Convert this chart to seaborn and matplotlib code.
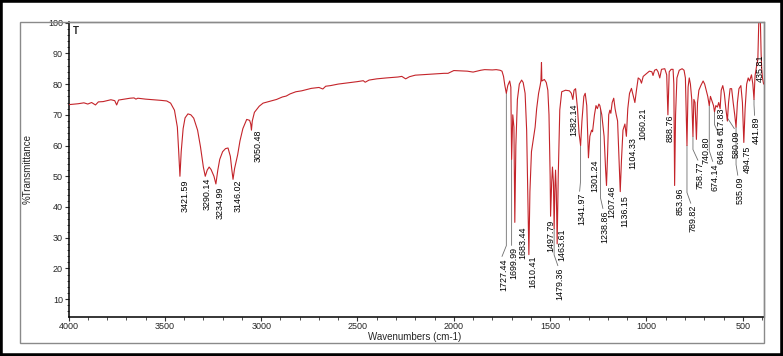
import pandas as pd
import matplotlib.pyplot as plt
import seaborn as sns
from matplotlib.patches import Rectangle
from matplotlib.ticker import MultipleLocator

# IR spectrum (wavenumber cm-1, %T)
wavenumber = [
    4000, 3950, 3920, 3900, 3880, 3860, 3845, 3820, 3800, 3780, 3760, 3750, 3740,
    3720, 3700, 3680, 3660, 3650, 3640, 3600, 3560, 3520, 3490, 3470, 3450, 3435,
    3428, 3421.59, 3415, 3405, 3395, 3380, 3365, 3350, 3330, 3315, 3300, 3290.14,
    3280, 3270, 3260, 3245, 3234.99, 3225, 3215, 3200, 3185, 3172, 3160, 3152,
    3146.02, 3138, 3122, 3110, 3095, 3075, 3060, 3054, 3050.48, 3046, 3035, 3010,
    2990, 2950, 2920, 2890, 2870, 2850, 2820, 2790, 2740, 2700, 2680, 2665, 2640,
    2600, 2550, 2500, 2470, 2460, 2440, 2400, 2350, 2290, 2270, 2250, 2230, 2200,
    2150, 2100, 2050, 2030, 2000, 1960, 1930, 1900, 1880, 1860, 1840, 1800, 1780,
    1760, 1750, 1742, 1735, 1727.44, 1720, 1710, 1704, 1699.99, 1694, 1688,
    1683.44, 1678, 1670, 1660, 1648, 1640, 1630, 1622, 1615, 1610.41, 1605, 1597,
    1590, 1584, 1578, 1570, 1560, 1552, 1548, 1545, 1543, 1530, 1520, 1512, 1506,
    1500, 1497.79, 1492, 1488, 1483, 1479.36, 1475, 1472, 1468, 1463.61, 1458,
    1450, 1440, 1420, 1400, 1390, 1382.14, 1376, 1368, 1358, 1350, 1341.97, 1335,
    1325, 1318, 1310, 1301.24, 1294, 1285, 1280, 1270, 1262, 1255, 1247, 1242,
    1238.86, 1232, 1220, 1212, 1207.46, 1202, 1196, 1190, 1185, 1178, 1170, 1163,
    1157, 1150, 1142, 1136.15, 1130, 1122, 1112, 1104.33, 1097, 1088, 1078, 1068,
    1060.21, 1052, 1043, 1033, 1026, 1017, 1000, 985, 972, 966, 958, 948, 940, 931,
    922, 905, 895, 888.76, 882, 872, 862, 858, 853.96, 849, 842, 830, 815, 805, 798,
    789.82, 784, 778, 772, 765, 758.77, 754, 748, 740.80, 735, 728, 718, 706, 698,
    690, 682, 674.14, 668, 660, 652, 646.94, 640, 632, 625, 617.83, 612, 604, 596,
    588, 580.09, 574, 566, 558, 550, 542, 535.09, 528, 520, 510, 502, 494.75, 488,
    480, 472, 465, 455, 448, 441.89, 437, 435.81, 428, 422, 417, 413, 409, 405, 402,
    398, 392,
]
transmittance = [
    73.3, 73.6, 73.9, 73.5, 74.0, 73.2, 74.2, 74.3, 74.6, 74.9, 74.6, 73.2, 74.8,
    75.0, 75.2, 75.4, 75.5, 75.1, 75.4, 75.1, 74.9, 74.7, 74.5, 73.8, 71.5, 66.0,
    58.0, 50.0, 58.0, 65.5, 69.0, 70.3, 70.0, 68.9, 65.0, 59.6, 53.0, 50.0,
    52.0, 53.0, 52.2, 50.0, 47.5, 52.0, 55.5, 58.0, 59.0, 59.2, 56.5, 52.0,
    49.0, 52.5, 57.0, 61.5, 65.5, 68.5, 68.2, 67.0, 65.0, 68.0, 70.8, 72.8,
    73.8, 74.5, 75.0, 75.8, 76.1, 76.8, 77.5, 77.8, 78.6, 78.9, 78.4, 79.3, 79.5,
    80.0, 80.4, 80.8, 81.1, 80.6, 81.3, 81.7, 82.0, 82.3, 82.5, 81.7, 82.4, 82.9,
    83.1, 83.3, 83.5, 83.5, 84.4, 84.3, 84.2, 83.9, 84.2, 84.5, 84.7, 84.6, 84.7,
    84.5, 84.2, 82.5, 79.5, 77.0, 79.5, 81.0, 79.0, 55.5, 70.0, 66.0,
    35.0, 60.0, 75.0, 80.0, 81.3, 80.5, 77.0, 65.0, 40.0, 24.5, 45.0, 58.0,
    61.0, 63.4, 66.0, 72.0, 77.0, 79.5, 81.0, 87.0, 81.0, 81.5, 80.5, 78.0, 70.0,
    50.0, 37.0, 48.0, 53.0, 48.0, 33.0, 47.0, 52.0, 45.0, 28.0, 50.0,
    71.6, 77.5, 78.0, 77.8, 77.0, 75.0, 78.0, 78.5, 72.0, 64.0, 60.0, 68.0,
    76.0, 77.0, 73.0, 56.0, 63.0, 65.0, 64.5, 70.0, 73.0, 72.0, 73.5, 73.0,
    72.0, 70.0, 63.0, 52.0, 47.0, 57.0, 70.0, 71.5, 70.5, 74.0, 75.4, 72.0,
    70.0, 68.0, 55.0, 45.0, 55.0, 65.0, 67.0, 63.0, 72.0, 77.0, 78.6, 76.0,
    74.0, 78.0, 82.0, 81.5, 80.3, 82.5, 83.4, 84.2, 84.0, 82.8, 84.5, 84.8, 84.0, 82.0,
    84.8, 85.0, 83.0, 70.0, 84.0, 84.8, 84.8, 80.0, 47.0, 70.0, 82.0, 84.5, 85.0, 84.5, 82.0,
    60.0, 79.0, 82.0, 80.0, 75.0, 63.0, 75.0, 74.0, 62.0, 74.0, 78.0, 79.5, 81.0, 80.0,
    78.0, 76.0, 73.0, 76.0, 74.5, 73.0, 71.0, 73.0, 72.5, 74.0, 72.0, 78.0, 79.5, 77.0,
    72.0, 68.0, 74.0, 78.5, 78.5, 74.0, 70.0, 66.0, 74.0, 78.5, 79.5, 74.0, 61.0, 72.0,
    80.0, 82.0, 81.0, 83.0, 80.0, 75.0, 82.0, 83.0, 86.0, 88.0, 100.5, 101.0, 101.0, 90.0, 85.0,
    82.0, 80.0,
]

# labelled peaks
peak_wn = [3421.59, 3290.14, 3234.99, 3146.02, 3050.48, 1727.44, 1699.99, 1683.44,
           1610.41, 1497.79, 1479.36, 1463.61, 1382.14, 1341.97, 1301.24, 1238.86,
           1207.46, 1136.15, 1104.33, 1060.21, 888.76, 853.96, 789.82, 758.77,
           740.80, 674.14, 646.94, 617.83, 580.09, 535.09, 494.75, 441.89, 435.81]
peak_t = [50.0, 50.0, 47.5, 49.0, 65.0, 77.0, 55.5, 35.0,
          24.5, 37.0, 33.0, 28.0, 75.0, 60.0, 56.0, 72.0,
          47.0, 45.0, 63.0, 74.0, 70.0, 47.0, 60.0, 63.0,
          62.0, 73.0, 71.0, 72.0, 68.0, 66.0, 61.0, 75.0, 83.0]

# where each label's top end sits
label_wn = [3396, 3281, 3214, 3121, 3018, 1740, 1690, 1640,
            1590, 1497, 1450, 1438, 1377, 1337, 1268, 1216,
            1181, 1112, 1069, 1021, 879, 827, 760, 723,
            692, 646, 611, 611, 534, 516, 476, 429, 412]
label_t = [48.8, 49.4, 46.5, 48.8, 65.1, 23.4, 27.0, 33.5,
           24.3, 35.8, 20.4, 33.0, 73.7, 44.6, 55.3, 39.0,
           47.0, 43.9, 62.8, 72.3, 70.0, 46.2, 40.7, 54.7,
           62.8, 54.3, 62.8, 72.3, 65.0, 49.8, 60.0, 69.3, 89.6]

spectrum = pd.DataFrame({"wavenumber": wavenumber, "transmittance": transmittance})

sns.set_style("ticks")
plt.rcParams["font.family"] = ["Liberation Sans", "DejaVu Sans"]

fig = plt.figure(figsize=(7.83, 3.56), dpi=100)
ax = fig.add_axes([68.5 / 783, 1 - 316.7 / 356, (764 - 68.5) / 783, (316.7 - 22) / 356])

sns.lineplot(data=spectrum, x="wavenumber", y="transmittance", ax=ax,
             color="#c4242a", lw=0.8, estimator=None, zorder=3)

# peak labels with leader lines
for w, t, lw_, lt in zip(peak_wn, peak_t, label_wn, label_t):
    if lt < t - 2:
        ax.plot([w, w, lw_ + 10], [t, lt + 4, lt + 0.5], color="#6e6e6e", lw=0.6, zorder=2)
    ax.text(lw_, lt, f"{w:.2f}", rotation=90, ha="center", va="top",
            fontsize=6.4, color="black", zorder=4)

ax.set_xlim(4000, 390)
ax.set_ylim(4.3, 100.2)
ax.xaxis.set_major_locator(MultipleLocator(500))
ax.xaxis.set_minor_locator(MultipleLocator(100))
ax.yaxis.set_major_locator(MultipleLocator(10))
ax.yaxis.set_minor_locator(MultipleLocator(2))
ax.set_yticks(range(10, 101, 10))
ax.tick_params(axis="both", which="major", labelsize=6.5, length=3, width=0.8, pad=1, color="#333333")
ax.tick_params(axis="both", which="minor", length=1.8, width=0.6, color="#333333")

ax.set_xlabel("Wavenumbers (cm-1)", fontsize=7)
ax.set_ylabel("%Transmittance", fontsize=7)
ax.xaxis.set_label_coords(0.498, -0.053)
ax.yaxis.set_label_coords(-0.051, 0.5)

for side in ["left", "bottom"]:
    ax.spines[side].set_color("black")
    ax.spines[side].set_linewidth(1.1)
for side in ["top", "right"]:
    ax.spines[side].set_color("#8a8a8a")
    ax.spines[side].set_linewidth(1.0)

ax.text(0.006, 0.985, "T", transform=ax.transAxes, ha="left", va="top",
        fontsize=7, fontweight="bold")

# grey panel frame and black outer border
fig.patches.append(Rectangle((20 / 783, 1 - 343 / 356), (764 - 20) / 783, (343 - 22) / 356,
                             transform=fig.transFigure, fill=False, edgecolor="#8a8a8a", lw=1.0))
fig.patches.append(Rectangle((0, 0), 1, 1, transform=fig.transFigure, fill=False,
                             edgecolor="black", lw=4))

fig.savefig("out.png", dpi=100)
